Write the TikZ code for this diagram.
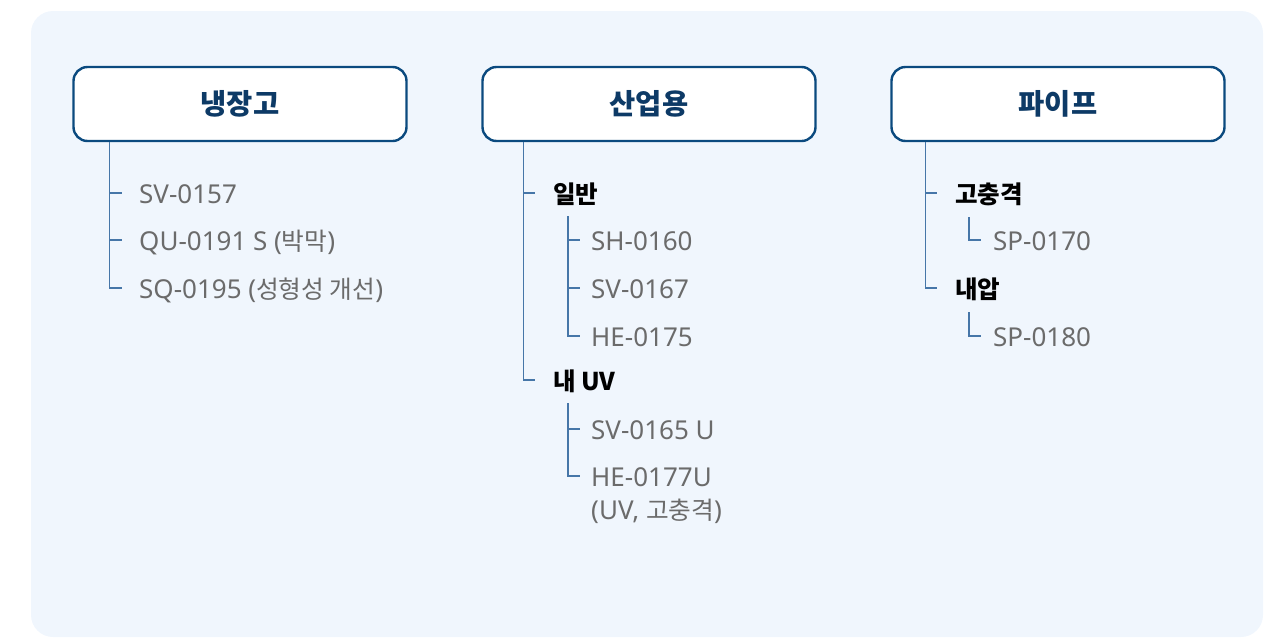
\documentclass[tikz,border=0pt]{standalone}
\usepackage{fontspec}
\setmainfont{Noto Sans}
\newfontfamily\kr[Scale=0.95]{Noto Sans CJK KR}
\newfontfamily\krc{Noto Sans CJK KR}
\definecolor{bgc}{HTML}{F0F6FD}
\definecolor{bord}{HTML}{0B4A7F}
\definecolor{ttl}{HTML}{0D3A66}
\definecolor{itm}{HTML}{6B6B6B}
\definecolor{treec}{HTML}{4676A8}
\begin{document}
\begin{tikzpicture}[x=1pt,y=-1pt,
  title/.style={draw=bord, line width=2.4pt, fill=white, rounded corners=14pt,
    minimum width=333pt, minimum height=74pt, inner sep=0pt,
    font=\fontsize{30}{34}\selectfont\kr\bfseries, text=ttl},
  item/.style={anchor=west, inner sep=0pt, text height=20pt, text depth=0pt,
    font=\fontsize{26}{30}\selectfont, text=itm},
  cat/.style={item, text=black, font=\fontsize{24.5}{28}\selectfont\krc\bfseries},
  tree/.style={draw=treec, line width=1.2pt}]
\useasboundingbox (0,0) rectangle (1271,638);
\fill[bgc, rounded corners=22pt] (31,11) rectangle (1263,637);

% titles
\node[title] (t1) at (240,104) {냉장고};
\node[title] (t2) at (649,104) {산업용};
\node[title] (t3) at (1058,104) {파이프};

% 냉장고
\node[item] (a1) at (139,193) {SV-0157};
\node[item] (a2) at (139,240) {QU-0191 S ({\kr 박막})};
\node[item] (a3) at (139,288) {SQ-0195 ({\kr 성형성 개선})};
\coordinate (k1) at ([xshift=37pt]t1.south west);
\draw[tree] (k1) |- ([xshift=-17pt]a3.west);
\draw[tree] (k1 |- a1.west) -- ([xshift=-17pt]a1.west);
\draw[tree] (k1 |- a2.west) -- ([xshift=-17pt]a2.west);

% 산업용
\node[cat] (c1) at (553,193) {일반};
\node[cat] (c2) at (553,380) {내 UV};
\node[item] (b1) at (591,240) {SH-0160};
\node[item] (b2) at (591,288) {SV-0167};
\node[item] (b3) at (591,336) {HE-0175};
\node[item] (b4) at (591,429) {SV-0165 U};
\node[item] (b5) at (591,476) {HE-0177U};
\node[item] (b6) at (591,509) {(UV, {\kr 고충격})};
\coordinate (k2) at ([xshift=42pt]t2.south west);
\draw[tree] (k2) |- ([xshift=-18pt]c2.west);
\draw[tree] (k2 |- c1.west) -- ([xshift=-18pt]c1.west);
\coordinate (m1) at ([xshift=15pt,yshift=-13pt]c1.south west);
\draw[tree] (m1) |- ([xshift=-11pt]b3.west);
\draw[tree] (m1 |- b1.west) -- ([xshift=-11pt]b1.west);
\draw[tree] (m1 |- b2.west) -- ([xshift=-11pt]b2.west);
\coordinate (m2) at ([xshift=15pt,yshift=-13pt]c2.south west);
\draw[tree] (m2) |- ([xshift=-11pt]b5.west);
\draw[tree] (m2 |- b4.west) -- ([xshift=-11pt]b4.west);

% 파이프
\node[cat] (c3) at (955,193) {고충격};
\node[cat] (c4) at (955,288) {내압};
\node[item] (p1) at (993,240) {SP-0170};
\node[item] (p2) at (993,336) {SP-0180};
\coordinate (k3) at ([xshift=35pt]t3.south west);
\draw[tree] (k3) |- ([xshift=-18pt]c4.west);
\draw[tree] (k3 |- c3.west) -- ([xshift=-18pt]c3.west);
\coordinate (m3) at ([xshift=14pt,yshift=-14pt]c3.south west);
\draw[tree] (m3) |- ([xshift=-12pt]p1.west);
\coordinate (m4) at ([xshift=14pt,yshift=-14pt]c4.south west);
\draw[tree] (m4) |- ([xshift=-12pt]p2.west);
\end{tikzpicture}
\end{document}
